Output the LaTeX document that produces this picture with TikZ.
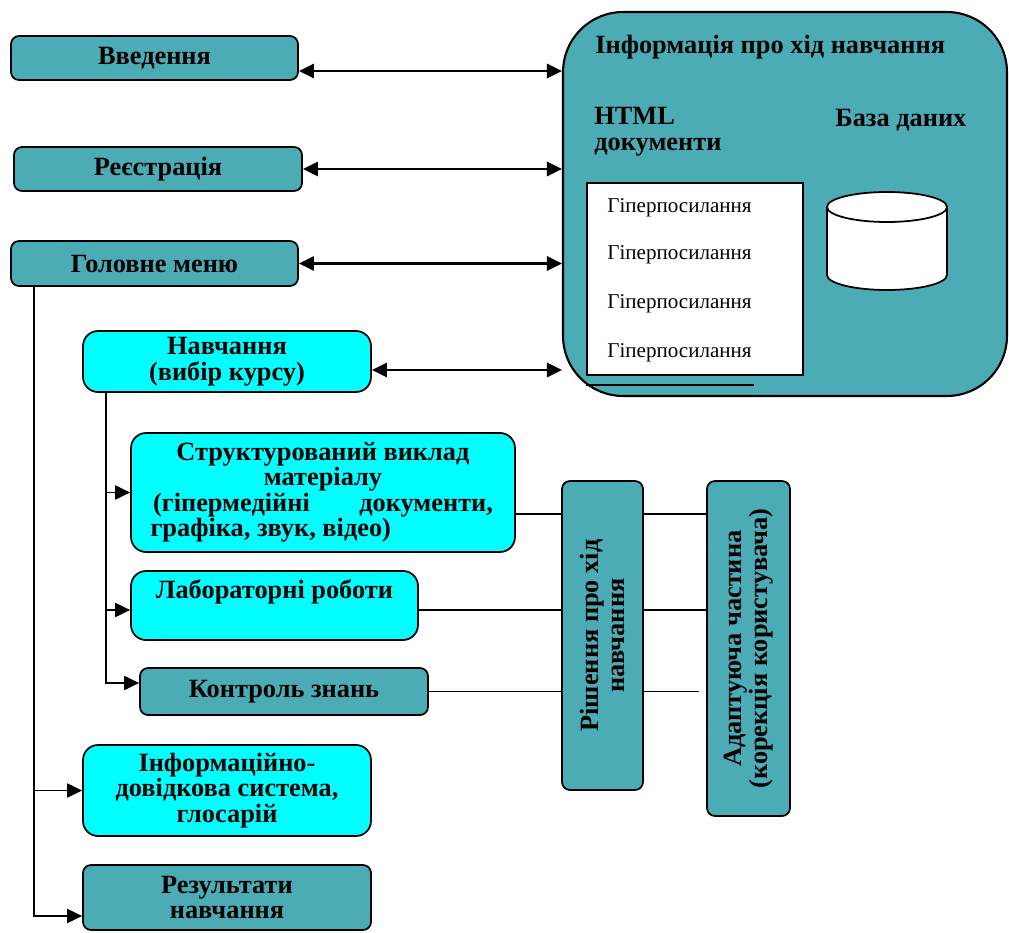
\documentclass[tikz,border=0pt]{standalone}
\usepackage{fontspec}
\setmainfont{Liberation Serif}
\usetikzlibrary{arrows.meta}
\definecolor{tealfill}{RGB}{75,172,182}
\definecolor{brightcyan}{RGB}{0,255,255}
\newcommand\boxfont{\fontsize{15}{14.5}\selectfont\bfseries}
\newcommand\linkfont{\fontsize{12}{12}\selectfont}

\begin{document}
\begin{tikzpicture}[x=0.02cm,y=-0.02cm,
    tealbox/.style={draw, fill=tealfill, rounded corners=0.16cm, line width=1pt,
                    font=\boxfont, align=center, inner sep=2pt},
    cyanbox/.style={tealbox, fill=brightcyan, rounded corners=0.3cm},
    dbl/.style={{Triangle[length=0.3cm,width=0.28cm]}-{Triangle[length=0.3cm,width=0.28cm]}, line width=1.5pt},
    branch/.style={-{Triangle[length=0.3cm,width=0.28cm]}, line width=1.1pt},
    link/.style={line width=1pt}]
    % \draw[help lines] (0,0) grid (1009,933);
    \useasboundingbox (0,0) rectangle (1009,933);
    % left column
    \node[tealbox, minimum width=5.74cm, minimum height=0.88cm] (intro) at (154.5,58) {Введення};
    \node[tealbox, minimum width=5.76cm, minimum height=0.88cm] (reg)   at (158,169)   {Реєстрація};
    \node[tealbox, minimum width=5.74cm, minimum height=0.90cm] (menu)  at (154.5,263.5) {Головне меню};
    \node[cyanbox, minimum width=5.76cm, minimum height=1.22cm] (course) at (227,361.5)
        {Навчання\\(вибір курсу)};
    \node[cyanbox, minimum width=7.68cm, minimum height=2.38cm] (struct) at (323,492.5)
        {Структурований виклад\\ матеріалу\\
         \makebox[6.8cm][s]{(гіпермедійні\hfill документи,}\\
         \makebox[6.9cm][l]{графіка, звук, відео)}};
    \node[cyanbox, minimum width=5.74cm, minimum height=1.38cm] (lab) at (274.5,605.5)
        {Лабораторні роботи\\ \strut};
    \node[tealbox, minimum width=5.76cm, minimum height=0.94cm] (ctrl) at (284,691.5) {Контроль знань};
    \node[cyanbox, minimum width=5.76cm, minimum height=1.82cm] (help) at (227,790.5)
        {Інформаційно-\\довідкова система,\\глосарій};
    \node[tealbox, minimum width=5.76cm, minimum height=1.30cm] (res) at (227,897.5)
        {Результати\\навчання};
    % vertical boxes
    \node[tealbox, rotate=90, minimum width=6.18cm, minimum height=1.62cm] (decide) at (602.5,635.5)
        {Рішення про хід\\навчання};
    \node[tealbox, rotate=90, minimum width=6.70cm, minimum height=1.66cm] (adapt) at (748.5,648.5)
        {Адаптуюча частина\\(корекція користувача)};
    % information block
    \node[draw, fill=tealfill, rounded corners=1.2cm, line width=1.2pt,
          minimum width=8.88cm, minimum height=7.68cm] (info) at (785,204) {};
    \node[anchor=west, font=\boxfont, inner sep=0pt] (infotitle) at (595,47) {Інформація про хід навчання};
    \node[anchor=north west, font=\boxfont, align=left, inner sep=0pt] (html) at (594,107) {HTML\\документи};
    \node[anchor=west, font=\boxfont, inner sep=0pt] (dbtitle) at (835,120) {База даних};
    \node[draw, fill=white, line width=1pt, minimum width=4.32cm, minimum height=3.84cm] (links) at (695,279) {};
    \foreach \y [count=\i] in {208,255,304,353}
        \node[anchor=west, font=\linkfont, inner sep=0pt] (hl\i) at (607,\y) {Гіперпосилання};
    \draw[line width=1.2pt] ([yshift=-0.18cm]links.south west) -- ++(3.36cm,0);
    % database
    \draw[fill=white, line width=1pt] (827,207) -- (827,275)
        arc[start angle=180, end angle=360, x radius=1.2cm, y radius=0.3cm] -- (947,207);
    \draw[fill=white, line width=1pt] (887,207) ellipse[x radius=1.2cm, y radius=0.3cm];
    % double arrows
    \draw[dbl] ([yshift=-0.26cm]intro.east) -- ([yshift=-0.26cm]intro.east -| info.west);
    \draw[dbl] (reg.east) -- (reg.east -| info.west);
    \draw[dbl] (menu.east) -- (menu.east -| info.west);
    \draw[dbl] ([yshift=-0.17cm]course.east) -- ([yshift=-0.17cm]course.east -| info.west);
    % main trunk
    \coordinate (trunk) at ([xshift=0.48cm]menu.south west);
    \draw[branch] (trunk) |- ([yshift=-0.37cm]res.west);
    \draw[branch] (trunk |- help.west) -- (help.west);
    % course trunk
    \coordinate (ctrunk) at ([xshift=0.48cm]course.south west);
    \draw[branch] (ctrunk) |- ([yshift=0.17cm]ctrl.west);
    \draw[branch] (ctrunk |- struct.west) -- (struct.west);
    \draw[branch] ([yshift=-0.09cm]lab.west -| ctrunk) -- ([yshift=-0.09cm]lab.west);
    % links to decision and adaptation
    \draw[link] ([yshift=-0.43cm]struct.east) -- ([yshift=-0.43cm]struct.east -| decide.north);
    \draw[link] ([yshift=-0.09cm]lab.east) -- ([yshift=-0.09cm]lab.east -| decide.north);
    \draw[link] (ctrl.east) -- (ctrl.east -| decide.north);
    \draw[link] ([yshift=-0.43cm]struct.east -| decide.south) -- ([yshift=-0.43cm]struct.east -| adapt.north);
    \draw[link] ([yshift=-0.09cm]lab.east -| decide.south) -- ([yshift=-0.09cm]lab.east -| adapt.north);
    \draw[link, shorten >=0.14cm] (ctrl.east -| decide.south) -- (ctrl.east -| adapt.north);
\end{tikzpicture}
\end{document}
